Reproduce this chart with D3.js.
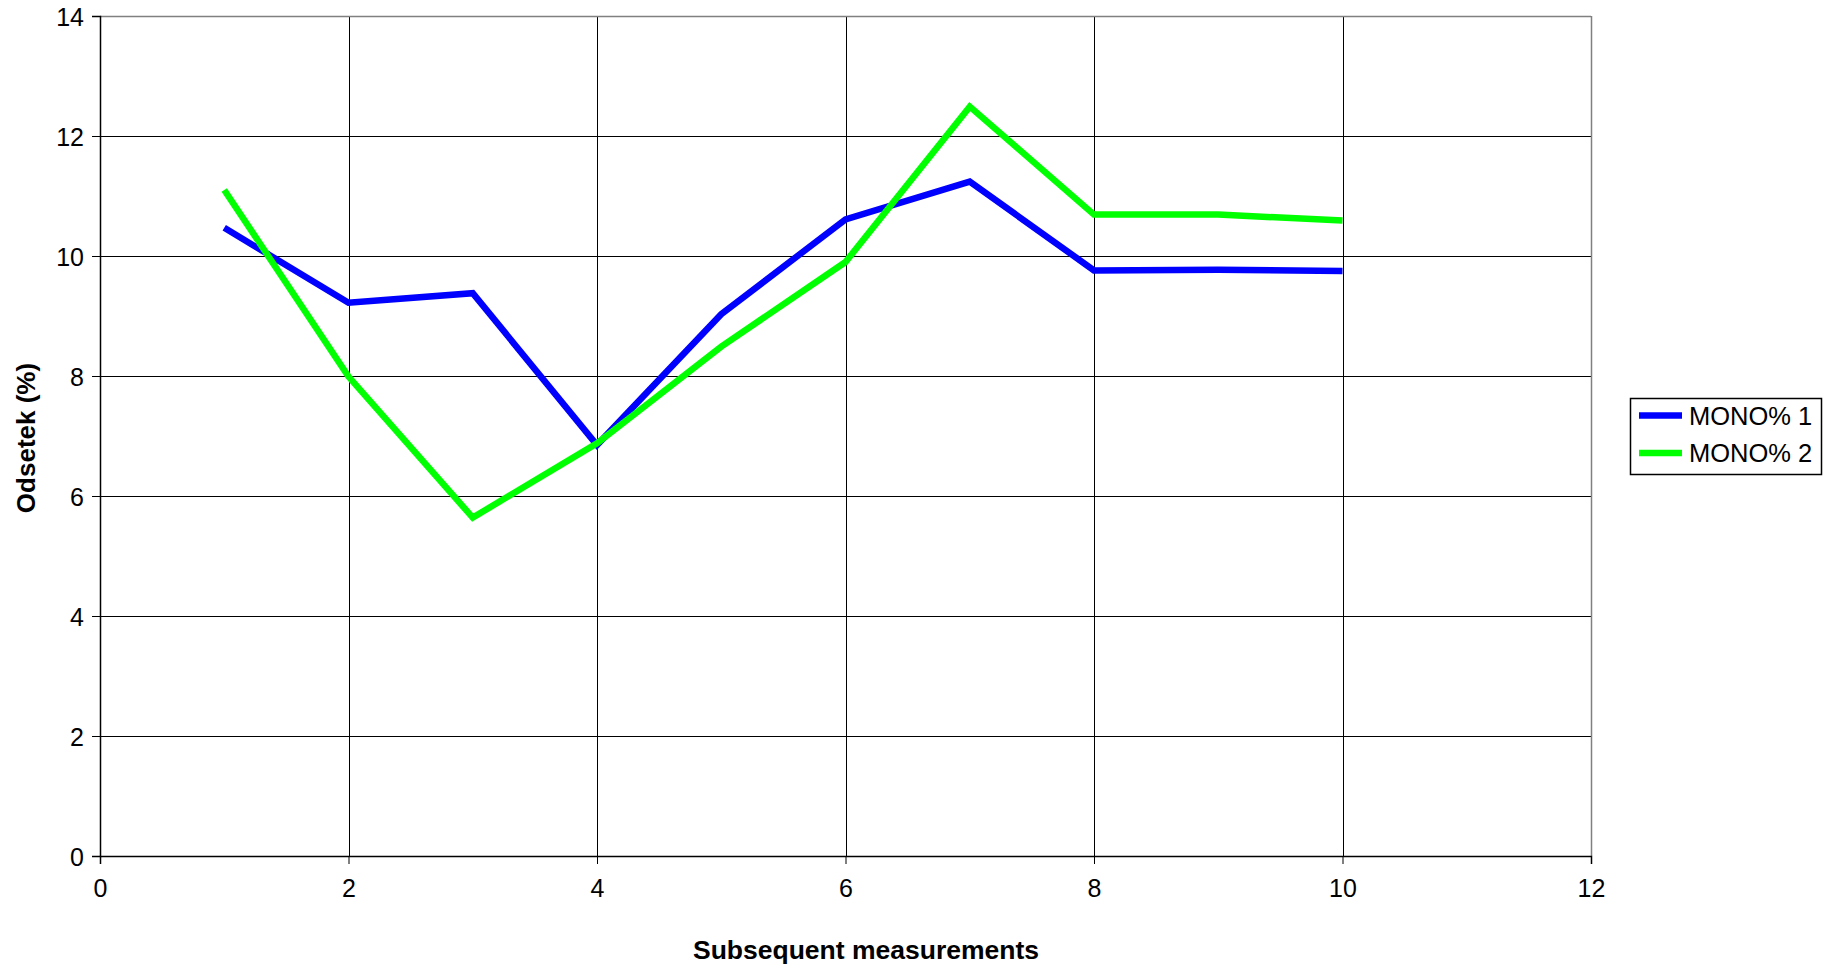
<!DOCTYPE html>
<html>
<head>
<meta charset="utf-8">
<script src="https://cdn.jsdelivr.net/npm/d3@7"></script>
<style>
  html, body { margin: 0; padding: 0; background: #fff; }
  svg { display: block; font-family: "Liberation Sans", Arial, sans-serif; }
</style>
</head>
<body>
<svg id="chart" width="1829" height="968"></svg>
<script>
// Measurement index (x) and the two MONO% series
const measurements = [1, 2, 3, 4, 5, 6, 7, 8, 9, 10];
const mono1 = [10.47, 9.22, 9.38, 6.85, 9.03, 10.61, 11.24, 9.76, 9.77, 9.75];
const mono2 = [11.10, 7.99, 5.64, 6.88, 8.49, 9.90, 12.49, 10.69, 10.69, 10.59];
const seriesNames = ["MONO% 1", "MONO% 2"];
const seriesColors = ["#0000ff", "#00ff00"];
const xTicks = [0, 2, 4, 6, 8, 10, 12];
const yTicks = [0, 2, 4, 6, 8, 10, 12, 14];

const svg = d3.select("#chart");
const plot = { left: 100, top: 16, right: 1591, bottom: 856 };

const x = d3.scaleLinear().domain([0, 12]).range([plot.left, plot.right]);
const y = d3.scaleLinear().domain([0, 14]).range([plot.bottom, plot.top]);

// Grid lines
const grid = svg.append("g");
grid.selectAll("line.h").data(yTicks.filter(d => d > 0 && d < 14)).join("line")
  .attr("x1", plot.left).attr("x2", plot.right)
  .attr("y1", d => Math.round(y(d)) + 0.5).attr("y2", d => Math.round(y(d)) + 0.5)
  .attr("stroke", "#000").attr("stroke-width", 1);
grid.selectAll("line.v").data(xTicks.filter(d => d > 0 && d < 12)).join("line")
  .attr("y1", plot.top).attr("y2", plot.bottom)
  .attr("x1", d => Math.round(x(d)) + 0.5).attr("x2", d => Math.round(x(d)) + 0.5)
  .attr("stroke", "#000").attr("stroke-width", 1);

// Plot-area frame (top and right in grey)
svg.append("line").attr("x1", plot.left).attr("x2", plot.right)
  .attr("y1", plot.top + 0.5).attr("y2", plot.top + 0.5)
  .attr("stroke", "#808080").attr("stroke-width", 1.5);
svg.append("line").attr("x1", plot.right + 0.5).attr("x2", plot.right + 0.5)
  .attr("y1", plot.top).attr("y2", plot.bottom)
  .attr("stroke", "#808080").attr("stroke-width", 1.5);

// Axes
const xAxis = d3.axisBottom(x).tickValues(xTicks).tickSize(8).tickPadding(15).tickFormat(d3.format("d"));
const yAxis = d3.axisLeft(y).tickValues(yTicks).tickSize(8).tickPadding(8).tickFormat(d3.format("d"));

const gx = svg.append("g").attr("transform", `translate(0,${plot.bottom})`).call(xAxis);
const gy = svg.append("g").attr("transform", `translate(${plot.left},0)`).call(yAxis);
[gx, gy].forEach(g => {
  g.select(".domain").attr("stroke", "#000").attr("stroke-width", 1.5);
  g.selectAll(".tick line").attr("stroke", "#000").attr("stroke-width", 1);
  g.selectAll(".tick text").attr("fill", "#000").style("font-size", "25px")
    .style("font-family", "'Liberation Sans', Arial, sans-serif");
});
gy.selectAll(".tick text").attr("dy", "0.36em");

// Series lines
const line = d3.line().x((d, i) => x(measurements[i])).y(d => y(d));
[mono1, mono2].forEach((vals, k) => {
  svg.append("path").datum(vals)
    .attr("d", line)
    .attr("fill", "none")
    .attr("stroke", seriesColors[k])
    .attr("stroke-width", 6.5)
    .attr("stroke-linejoin", "miter");
});

// Axis titles
svg.append("text").attr("x", 866).attr("y", 959)
  .attr("text-anchor", "middle").style("font-size", "26.5px").style("font-weight", "bold")
  .text("Subsequent measurements");
svg.append("text")
  .attr("transform", `translate(35,${(plot.top + plot.bottom) / 2 + 2}) rotate(-90)`)
  .attr("text-anchor", "middle").style("font-size", "26px").style("font-weight", "bold")
  .text("Odsetek (%)");

// Legend
const legend = svg.append("g");
legend.append("rect").attr("x", 1630.5).attr("y", 398.5).attr("width", 191).attr("height", 76)
  .attr("fill", "#fff").attr("stroke", "#000").attr("stroke-width", 1.5);
seriesNames.forEach((name, k) => {
  const ly = 415.5 + k * 37.5;
  legend.append("line").attr("x1", 1639).attr("x2", 1682).attr("y1", ly).attr("y2", ly)
    .attr("stroke", seriesColors[k]).attr("stroke-width", 6.5);
  legend.append("text").attr("x", 1689).attr("y", ly + 9)
    .style("font-size", "25.5px").attr("fill", "#000").text(name);
});
</script>
</body>
</html>
